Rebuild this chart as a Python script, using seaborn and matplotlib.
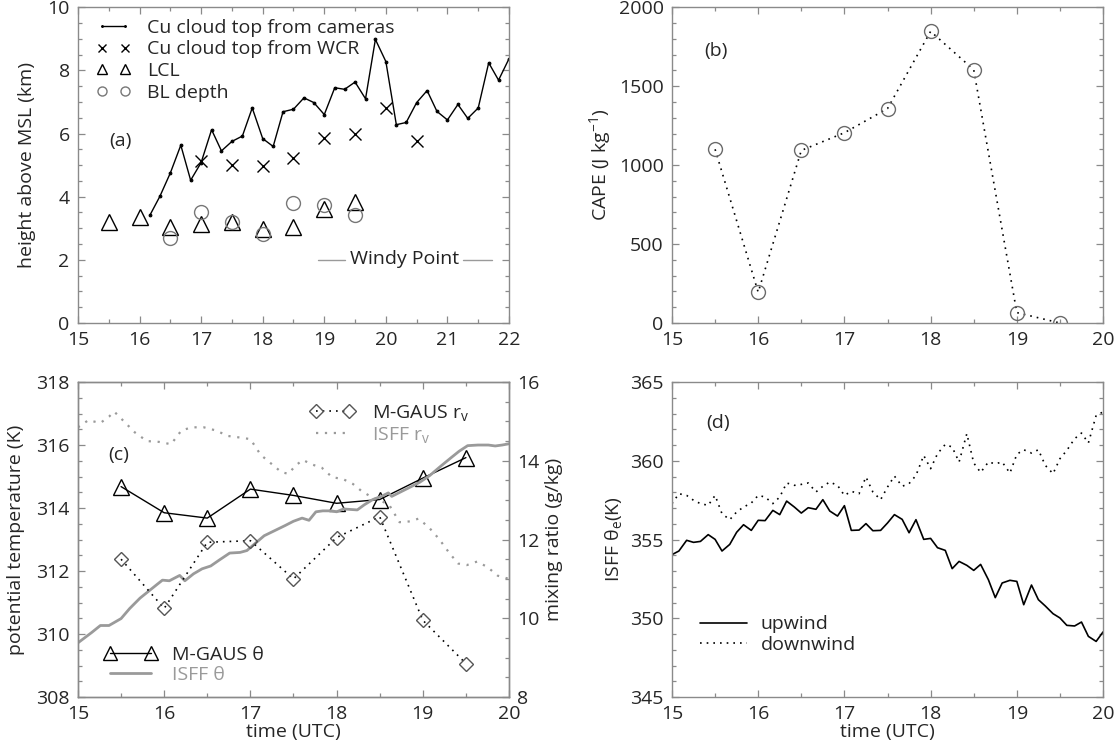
import numpy as np
import pandas as pd
import matplotlib.pyplot as plt
import seaborn as sns
from matplotlib.ticker import MultipleLocator

# ---- panel (a): cloud tops, LCL, BL depth (km) ----
cam_time = [16.17, 16.33, 16.50, 16.67, 16.83, 17.00, 17.17, 17.33, 17.50, 17.67, 17.83, 18.00,
            18.17, 18.33, 18.50, 18.67, 18.83, 19.00, 19.17, 19.33, 19.50, 19.67, 19.83, 20.00,
            20.17, 20.33, 20.50, 20.67, 20.83, 21.00, 21.17, 21.33, 21.50, 21.67, 21.83, 22.00]
cam_top = [3.42, 4.01, 4.75, 5.63, 4.52, 5.08, 6.12, 5.45, 5.75, 5.92, 6.81, 5.84,
           5.59, 6.69, 6.77, 7.13, 6.98, 6.60, 7.45, 7.40, 7.63, 7.10, 8.98, 8.28,
           6.28, 6.35, 6.98, 7.36, 6.70, 6.43, 6.92, 6.48, 6.81, 8.24, 7.69, 8.37]
wcr_time = [17.0, 17.5, 18.0, 18.5, 19.0, 19.5, 20.0, 20.5]
wcr_top = [5.14, 5.00, 4.98, 5.24, 5.87, 5.98, 6.82, 5.77]
lcl_time = [15.5, 16.0, 16.5, 17.0, 17.5, 18.0, 18.5, 19.0, 19.5]
lcl = [3.20, 3.35, 3.03, 3.14, 3.21, 2.98, 3.03, 3.60, 3.84]
bl_time = [16.5, 17.0, 17.5, 18.0, 18.5, 19.0, 19.5]
bl_depth = [2.69, 3.53, 3.19, 2.82, 3.80, 3.74, 3.42]

# ---- panel (b): CAPE ----
cape_time = [15.5, 16.0, 16.5, 17.0, 17.5, 18.0, 18.5, 19.0, 19.5]
cape = [1100, 195, 1093, 1205, 1358, 1847, 1604, 66, 0]

# ---- panel (c): theta and mixing ratio ----
mg_time = [15.5, 16.0, 16.5, 17.0, 17.5, 18.0, 18.5, 19.0, 19.5]
mg_theta = [314.68, 313.85, 313.68, 314.60, 314.40, 314.15, 314.27, 314.95, 315.60]
mg_rv = [11.50, 10.25, 11.93, 11.97, 11.00, 12.05, 12.58, 9.95, 8.85]
isff_th_time = [15.00, 15.16, 15.26, 15.36, 15.50, 15.60, 15.72, 15.82, 15.92, 15.98, 16.06, 16.18,
                16.24, 16.34, 16.44, 16.54, 16.64, 16.76, 16.88, 16.96, 17.04, 17.16, 17.28, 17.40,
                17.50, 17.60, 17.68, 17.76, 17.84, 17.94, 18.00, 18.08, 18.24, 18.32, 18.42, 18.52,
                18.60, 18.64, 18.72, 18.80, 18.88, 18.96, 19.08, 19.20, 19.32, 19.42, 19.52, 19.64,
                19.76, 19.84, 19.92, 20.00]
isff_theta = [309.72, 310.05, 310.27, 310.27, 310.49, 310.81, 311.14, 311.36, 311.58, 311.71, 311.69, 311.86,
              311.69, 311.91, 312.07, 312.16, 312.35, 312.57, 312.59, 312.65, 312.84, 313.12, 313.28, 313.44,
              313.58, 313.68, 313.61, 313.88, 313.91, 313.91, 313.88, 313.97, 313.94, 314.10, 314.27, 314.37,
              314.48, 314.37, 314.48, 314.59, 314.70, 314.81, 315.03, 315.31, 315.58, 315.80, 315.98, 316.00,
              316.00, 315.97, 316.00, 316.04]
isff_rv_time = [15.00, 15.12, 15.26, 15.36, 15.42, 15.52, 15.66, 15.80, 15.94, 16.08, 16.20, 16.32,
                16.46, 16.60, 16.74, 16.88, 17.00, 17.12, 17.24, 17.36, 17.44, 17.53, 17.61, 17.71,
                17.83, 17.95, 18.07, 18.19, 18.29, 18.39, 18.49, 18.61, 18.73, 18.85, 18.95, 19.07,
                19.19, 19.31, 19.41, 19.51, 19.63, 19.75, 19.87, 20.00]
isff_rv = [14.85, 15.03, 14.96, 15.12, 15.25, 15.03, 14.72, 14.50, 14.48, 14.42, 14.77, 14.85,
           14.85, 14.77, 14.63, 14.59, 14.55, 14.15, 13.93, 13.71, 13.67, 13.89, 14.02, 13.91,
           13.82, 13.58, 13.54, 13.41, 13.23, 13.10, 13.01, 12.88, 12.44, 12.46, 12.53, 12.31,
           12.01, 11.65, 11.39, 11.35, 11.44, 11.30, 11.08, 11.00]

# ---- panel (d): ISFF theta_e (K), 5-min samples ----
te_time = [15.00, 15.08, 15.17, 15.25, 15.33, 15.42, 15.50, 15.58, 15.67, 15.75, 15.83, 15.92,
           16.00, 16.08, 16.17, 16.25, 16.33, 16.42, 16.50, 16.58, 16.67, 16.75, 16.83, 16.92,
           17.00, 17.08, 17.17, 17.25, 17.33, 17.42, 17.50, 17.58, 17.67, 17.75, 17.83, 17.92,
           18.00, 18.08, 18.17, 18.25, 18.33, 18.42, 18.50, 18.58, 18.67, 18.75, 18.83, 18.92,
           19.00, 19.08, 19.17, 19.25, 19.33, 19.42, 19.50, 19.58, 19.67, 19.75, 19.83, 19.92, 20.00]
upwind = [354.04, 354.27, 354.95, 354.82, 354.88, 355.31, 355.01, 354.27, 354.69, 355.46,
          355.94, 355.58, 356.22, 356.20, 356.85, 356.58, 357.44, 357.06, 356.68, 357.02,
          356.92, 357.53, 356.81, 356.49, 357.15, 355.58, 355.60, 356.01, 355.56, 355.58,
          356.05, 356.58, 356.28, 355.43, 356.26, 355.01, 355.07, 354.48, 354.31, 353.15,
          353.61, 353.36, 353.04, 353.42, 352.45, 351.31, 352.24, 352.41, 352.34, 350.86,
          352.11, 351.18, 350.78, 350.29, 350.02, 349.55, 349.51, 349.76, 348.85, 348.53, 349.13]
downwind = [357.28, 357.91, 357.80, 357.49, 357.28, 357.17, 357.80, 356.64, 356.26, 356.75,
            357.06, 357.32, 357.80, 357.70, 357.28, 357.70, 358.59, 358.44, 358.50, 358.59,
            358.02, 358.38, 358.65, 358.44, 357.80, 358.06, 357.91, 358.97, 358.02, 357.53,
            358.33, 359.03, 358.38, 358.55, 359.07, 360.34, 359.50, 360.45, 361.04, 360.87,
            359.92, 361.72, 359.86, 359.26, 359.92, 359.81, 359.92, 359.22, 360.41, 360.70,
            360.49, 360.70, 359.71, 359.18, 360.13, 360.66, 361.40, 361.76, 361.13, 362.88, 363.10]

sns.set_style('ticks')
plt.rcParams['font.family'] = ['Open Sans', 'DejaVu Sans']
plt.rcParams['mathtext.default'] = 'regular'
FS = 14
frame = '#8a8a8a'
grey = '#9a9a9a'
dots = (0, (1, 3))


def style(ax, xmin, ymaj, ymin, right=True):
    for s in ax.spines.values():
        s.set_color(frame)
        s.set_linewidth(1.0)
    ax.xaxis.set_major_locator(MultipleLocator(1))
    ax.xaxis.set_minor_locator(MultipleLocator(xmin))
    ax.yaxis.set_major_locator(MultipleLocator(ymaj))
    ax.yaxis.set_minor_locator(MultipleLocator(ymin))
    ax.tick_params(which='both', direction='in', top=True, right=right,
                   color=frame, labelsize=FS, pad=6)
    ax.tick_params(which='major', length=5, width=0.9)
    ax.tick_params(which='minor', length=3, width=0.9)


fig = plt.figure(figsize=(11.17, 7.51), dpi=100)
W, H = 0.3859, 0.4205
ax_a = fig.add_axes([0.0698, 0.5699, W, H])
ax_b = fig.add_axes([0.6016, 0.5699, W, H])
ax_c = fig.add_axes([0.0698, 0.0719, W, 0.4194])
ax_d = fig.add_axes([0.6016, 0.0719, W, 0.4194])

# (a)
sns.lineplot(x=cam_time, y=cam_top, ax=ax_a, color='k', lw=1, marker='o', ms=2,
             mec='k', label='Cu cloud top from cameras')
sns.lineplot(x=wcr_time, y=wcr_top, ax=ax_a, color='k', ls='none', marker='x', ms=9,
             mew=1, mec='k', label='Cu cloud top from WCR')
sns.lineplot(x=lcl_time, y=lcl, ax=ax_a, color='k', ls='none', marker='^', ms=11,
             mfc='none', mec='k', mew=1, label='LCL')
sns.lineplot(x=bl_time, y=bl_depth, ax=ax_a, color=grey, ls='none', marker='o', ms=10,
             mfc='none', mec='#777777', mew=1, label='BL depth')
ax_a.set_xlim(15, 22)
ax_a.set_ylim(0, 10)
style(ax_a, 0.5, 2, 0.5)
ax_a.set_ylabel('height above MSL (km)', fontsize=FS, labelpad=8)
ax_a.set_xlabel('')
ax_a.legend(loc='upper left', bbox_to_anchor=(0.02, 0.995), frameon=False, numpoints=2,
            markerscale=0.65, handlelength=1.8, handletextpad=0.8, labelspacing=0.2,
            fontsize=FS, borderaxespad=0.1)
ax_a.text(15.5, 5.75, '(a)', fontsize=FS, va='center')
ax_a.text(20.31, 2.03, 'Windy Point', fontsize=FS, ha='center', va='center', color='#222222')
for x0, x1 in [(0.557, 0.620), (0.893, 0.961)]:
    ax_a.plot([x0, x1], [0.2, 0.2], transform=ax_a.transAxes, color=grey, lw=1)

# (b)
sns.lineplot(x=cape_time, y=cape, ax=ax_b, color='k', ls=dots, lw=1.2, marker='o', ms=10,
             mfc='none', mec='#6a6a6a', mew=1)
ax_b.set_xlim(15, 20)
ax_b.set_ylim(0, 2000)
style(ax_b, 0.5, 500, 100)
ax_b.set_ylabel('CAPE (J kg$^{-1}$)', fontsize=FS)
ax_b.text(15.38, 1720, '(b)', fontsize=FS, va='center')

# (c)
ax_c2 = ax_c.twinx()
l1 = sns.lineplot(x=mg_time, y=mg_theta, ax=ax_c, color='k', lw=1, marker='^', ms=11,
                  mfc='none', mec='k', mew=1, label='M-GAUS θ').lines[-1]
l2 = sns.lineplot(x=isff_th_time, y=isff_theta, ax=ax_c, color=grey, lw=2,
                  label='ISFF θ').lines[-1]
l3 = sns.lineplot(x=mg_time, y=mg_rv, ax=ax_c2, color='k', ls=dots, lw=1.2, marker='D', ms=7,
                  mfc='none', mec='#555555', mew=1, label='M-GAUS r$_v$').lines[-1]
l4 = sns.lineplot(x=isff_rv_time, y=isff_rv, ax=ax_c2, color=grey, ls=dots, lw=1.6,
                  label='ISFF r$_v$').lines[-1]
ax_c.set_xlim(15, 20)
ax_c.set_ylim(308, 318)
ax_c2.set_ylim(8, 16)
style(ax_c, 0.5, 2, 0.5, right=False)
style(ax_c2, 0.5, 2, 0.5)
ax_c2.tick_params(which='both', left=False, top=False, labelleft=False)
ax_c.set_ylabel('potential temperature (K)', fontsize=FS, labelpad=8)
ax_c2.set_ylabel('mixing ratio (g/kg)', fontsize=FS)
ax_c.set_xlabel('time (UTC)', fontsize=FS, labelpad=0)
ax_c.text(15.35, 315.68, '(c)', fontsize=FS, va='center')
leg1 = ax_c.legend(handles=[l1, l2], loc='lower left', bbox_to_anchor=(0.02, -0.015),
                   frameon=False, numpoints=2, markerscale=0.9, handlelength=2.7,
                   handletextpad=0.8, labelspacing=0.1, fontsize=FS)
leg1.get_texts()[1].set_color(grey)
leg2 = ax_c2.legend(handles=[l3, l4], loc='upper left', bbox_to_anchor=(0.497, 0.99),
                    frameon=False, numpoints=2, handlelength=2.3, handletextpad=0.9,
                    labelspacing=0.1, fontsize=FS)
leg2.get_texts()[1].set_color(grey)

# (d)
sns.lineplot(x=te_time, y=upwind, ax=ax_d, color='k', lw=1.2, label='upwind')
sns.lineplot(x=te_time, y=downwind, ax=ax_d, color='k', ls=dots, lw=1.2, label='downwind')
ax_d.set_xlim(15, 20)
ax_d.set_ylim(345, 365)
style(ax_d, 0.5, 5, 1)
ax_d.set_ylabel('ISFF θ$_e$(K)', fontsize=FS)
ax_d.set_xlabel('time (UTC)', fontsize=FS, labelpad=0)
ax_d.text(15.4, 362.4, '(d)', fontsize=FS, va='center')
ax_d.legend(loc='lower left', bbox_to_anchor=(0.025, 0.08), frameon=False,
            handlelength=2.4, handletextpad=0.7, labelspacing=0.15, fontsize=FS)

fig.savefig('out.png', dpi=100)
